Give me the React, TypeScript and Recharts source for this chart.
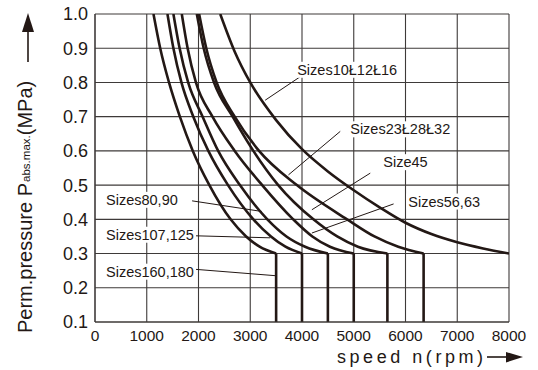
import React from 'react';
import { LineChart, Line, XAxis, YAxis, CartesianGrid, ReferenceLine, ReferenceDot } from 'recharts';

const INK = '#231815';
const GRID = '#3e3a39';
const FONT = '"Liberation Sans", Arial, Helvetica, sans-serif';

// axis ticks
const SPEED_TICKS = [0, 1000, 2000, 3000, 4000, 5000, 6000, 7000, 8000];
const PRESSURE_TICKS = [0.1, 0.2, 0.3, 0.4, 0.5, 0.6, 0.7, 0.8, 0.9, 1.0];
const FLOOR = 0.1;

// curves: speed n (rpm) vs perm. pressure p (MPa)
const SIZES_160_180 = [
  { n: 1130, p: 1.0 }, { n: 1260, p: 0.9 }, { n: 1430, p: 0.8 }, { n: 1640, p: 0.7 }, { n: 1890, p: 0.6 },
  { n: 2210, p: 0.5 }, { n: 2620, p: 0.4 }, { n: 2920, p: 0.35 }, { n: 3180, p: 0.32 }, { n: 3500, p: 0.3 },
];
const SIZES_107_125 = [
  { n: 1400, p: 1.0 }, { n: 1515, p: 0.9 }, { n: 1670, p: 0.8 }, { n: 1900, p: 0.7 }, { n: 2190, p: 0.6 },
  { n: 2570, p: 0.5 }, { n: 3060, p: 0.4 }, { n: 3400, p: 0.35 }, { n: 3680, p: 0.32 }, { n: 4000, p: 0.3 },
];
const SIZES_80_90 = [
  { n: 1515, p: 1.0 }, { n: 1635, p: 0.9 }, { n: 1800, p: 0.8 }, { n: 2080, p: 0.7 }, { n: 2380, p: 0.6 },
  { n: 2800, p: 0.5 }, { n: 3330, p: 0.4 }, { n: 3700, p: 0.35 }, { n: 4060, p: 0.32 }, { n: 4500, p: 0.3 },
];
const SIZES_56_63 = [
  { n: 1677, p: 1.0 }, { n: 1790, p: 0.9 }, { n: 1950, p: 0.8 }, { n: 2270, p: 0.7 }, { n: 2700, p: 0.6 },
  { n: 3230, p: 0.5 }, { n: 3830, p: 0.4 }, { n: 4200, p: 0.35 }, { n: 4540, p: 0.32 }, { n: 5000, p: 0.3 },
];
const SIZE_45 = [
  { n: 1967, p: 1.0 }, { n: 2100, p: 0.9 }, { n: 2300, p: 0.8 }, { n: 2660, p: 0.7 }, { n: 3060, p: 0.6 },
  { n: 3540, p: 0.5 }, { n: 4220, p: 0.4 }, { n: 4680, p: 0.35 }, { n: 5080, p: 0.32 }, { n: 5650, p: 0.3 },
];
const SIZES_23_28_32 = [
  { n: 2012, p: 1.0 }, { n: 2150, p: 0.9 }, { n: 2350, p: 0.8 }, { n: 2700, p: 0.7 }, { n: 3170, p: 0.6 },
  { n: 3900, p: 0.5 }, { n: 4870, p: 0.4 }, { n: 5400, p: 0.35 }, { n: 5860, p: 0.32 }, { n: 6350, p: 0.3 },
];
const SIZES_10_12_16 = [
  { n: 2420, p: 1.0 }, { n: 2700, p: 0.89 }, { n: 3000, p: 0.8 }, { n: 3500, p: 0.69 }, { n: 4000, p: 0.605 },
  { n: 4500, p: 0.54 }, { n: 5000, p: 0.485 }, { n: 5500, p: 0.435 }, { n: 6000, p: 0.39 },
  { n: 6500, p: 0.357 }, { n: 7000, p: 0.333 }, { n: 7500, p: 0.315 }, { n: 8000, p: 0.3 },
];

const CURVES = [
  { key: '160-180', points: SIZES_160_180, drop: true },
  { key: '107-125', points: SIZES_107_125, drop: true },
  { key: '80-90', points: SIZES_80_90, drop: true },
  { key: '56-63', points: SIZES_56_63, drop: true },
  { key: '45', points: SIZE_45, drop: true },
  { key: '23-32', points: SIZES_23_28_32, drop: true },
  { key: '10-16', points: SIZES_10_12_16, drop: false },
];

// callouts: label anchor (left / middle) and leader line, in chart units
const NOTES = [
  { text: 'Sizes10Ł12Ł16', at: [3907, 0.837], w: 101, from: [3998, 0.82], to: [3288, 0.748] },
  { text: 'Sizes23Ł28Ł32', at: [4932, 0.663], w: 102, from: [4739, 0.657], to: [3739, 0.53] },
  { text: 'Size45', at: [5571, 0.567], w: 44, from: [5319, 0.535], to: [4191, 0.428] },
  { text: 'Sizes56,63', at: [6054, 0.452], w: 73, from: [5770, 0.445], to: [4191, 0.36] },
  { text: 'Sizes80,90', at: [213, 0.457], w: 74, from: [1876, 0.454], to: [3224, 0.423] },
  { text: 'Sizes107,125', at: [213, 0.355], w: 88, from: [1915, 0.352], to: [3385, 0.346] },
  { text: 'Sizes160,180', at: [213, 0.247], w: 88, from: [1934, 0.254], to: [3514, 0.235] },
];

const noteLabel = (text: string, w: number) => (props: any) => {
  const vb = props.viewBox || {};
  const x = (vb.x || 0) + (vb.width || 0) / 2;
  const y = (vb.y || 0) + (vb.height || 0) / 2;
  return (
    <g>
      <rect x={x - 2} y={y - 8} width={w + 4} height={16} fill="#fff" />
      <text x={x} y={y} dy="0.35em" fontSize={14.5} fontFamily={FONT} fill={INK}>
        {text}
      </text>
    </g>
  );
};

export default function App() {
  return (
    <div style={{ position: 'absolute', left: 0, top: 0, width: 538, height: 370, background: '#fff' }}>
      <LineChart width={538} height={370} margin={{ top: 14, right: 29, bottom: 18, left: 35 }}>
        <CartesianGrid stroke={GRID} strokeWidth={1.1} fill="none" />
        <XAxis
          type="number"
          dataKey="n"
          domain={[0, 8000]}
          ticks={SPEED_TICKS}
          interval={0}
          height={30}
          tickLine={false}
          tickSize={0}
          tickMargin={8}
          axisLine={{ stroke: GRID, strokeWidth: 1.1 }}
          tick={{ fontSize: 15.5, fill: INK, fontFamily: FONT }}
          allowDataOverflow
        />
        <YAxis
          type="number"
          dataKey="p"
          domain={[0.1, 1.0]}
          ticks={PRESSURE_TICKS}
          interval={0}
          width={60}
          tickLine={false}
          tickSize={0}
          tickMargin={7}
          tickFormatter={(v: number) => v.toFixed(1)}
          axisLine={{ stroke: GRID, strokeWidth: 1.1 }}
          tick={{ fontSize: 18, fill: INK, fontFamily: FONT }}
          allowDataOverflow
        />
        {CURVES.map((c) => (
          <Line
            key={c.key}
            data={c.points}
            dataKey="p"
            type="monotone"
            stroke={INK}
            strokeWidth={2.6}
            dot={false}
            activeDot={false}
            isAnimationActive={false}
          />
        ))}
        {CURVES.filter((c) => c.drop).map((c) => {
          const last = c.points[c.points.length - 1];
          return (
            <Line
              key={c.key + '-drop'}
              data={[last, { n: last.n, p: FLOOR }]}
              dataKey="p"
              type="linear"
              stroke={INK}
              strokeWidth={2.6}
              dot={false}
              activeDot={false}
              isAnimationActive={false}
            />
          );
        })}
        {NOTES.map((note) => (
          <ReferenceLine
            key={note.text + '-lead'}
            segment={[
              { x: note.from[0], y: note.from[1] },
              { x: note.to[0], y: note.to[1] },
            ]}
            stroke={INK}
            strokeWidth={1}
          />
        ))}
        {NOTES.map((note) => (
          <ReferenceDot
            key={note.text}
            x={note.at[0]}
            y={note.at[1]}
            r={0}
            fill="none"
            stroke="none"
            label={noteLabel(note.text, note.w)}
          />
        ))}
      </LineChart>
      <svg
        width={538}
        height={370}
        style={{ position: 'absolute', left: 0, top: 0, pointerEvents: 'none' }}
      >
        <text transform="translate(31.5,333) rotate(-90)" fontSize={20} fontFamily={FONT} fill={INK}>
          Perm.pressure P
          <tspan fontSize={11.5} dy={-2} dx={1}>abs.max.</tspan>
          <tspan fontSize={20} dy={2}>(MPa)</tspan>
        </text>
        <line x1={28} y1={62} x2={28} y2={30} stroke={INK} strokeWidth={1.6} />
        <polygon points="28,13 22,32 34,32" fill={INK} />
        <text x={337} y={363} fontSize={18} fontFamily={FONT} fill={INK} textLength={146} lengthAdjust="spacing">
          speed n(rpm)
        </text>
        <line x1={487} y1={357} x2={508} y2={357} stroke={INK} strokeWidth={1.6} />
        <polygon points="523,357 506,352 506,362.5" fill={INK} />
      </svg>
    </div>
  );
}
